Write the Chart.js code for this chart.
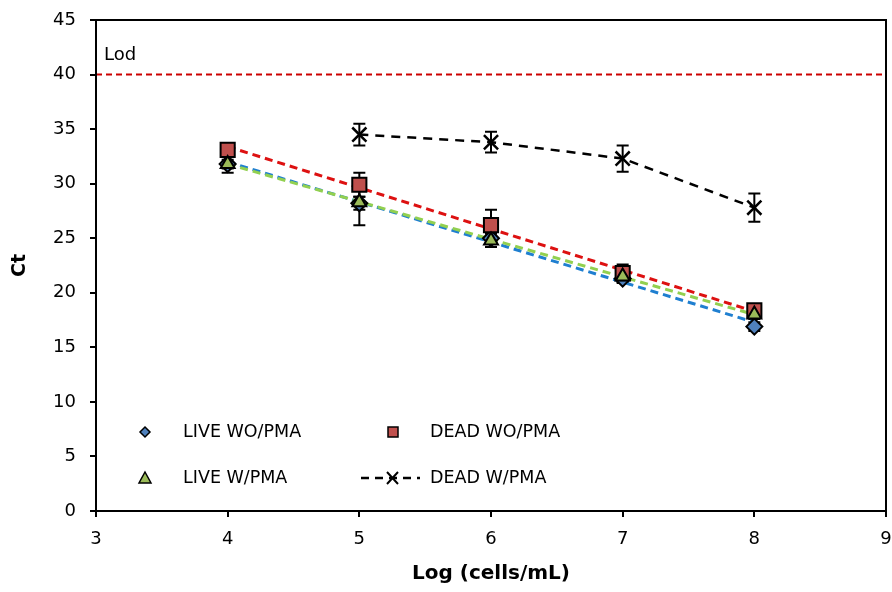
<!DOCTYPE html>
<html>
<head>
<meta charset="utf-8">
<script src="https://cdn.jsdelivr.net/npm/chart.js@4"></script>
<style>
html,body{margin:0;padding:0;background:#fff;}
#wrap{width:892px;height:592px;}
</style>
</head>
<body>
<div id="wrap"><canvas id="c" width="892" height="592"></canvas></div>
<script>
// ---- data ----
const logCells = [4, 5, 6, 7, 8];
const liveWO = [31.8, 28.2, 25.0, 21.3, 16.9];
const deadWO = [33.1, 29.9, 26.2, 21.8, 18.4];
const liveW  = [31.8, 28.3, 24.8, 21.5, 18.0];
const deadWx = [5, 6, 7, 8];
const deadW  = [34.5, 33.8, 32.3, 27.8];
// error bar half-widths
const deadWOErr = [0.5, 1.1, 1.4, 0.8, 0.4];
const liveWErr  = [0.8, 2.1, 0.6, 0.5, 0.4];
const liveWOErr = [0.4, 0.6, 0.5, 0.4, 0.4];
const deadWErr  = [1.0, 0.95, 1.2, 1.3];
// trendline endpoints (x=4, x=8)
const trendX = [4, 8];
const trendLiveWO = [32.0, 17.3];
const trendDeadWO = [33.4, 18.3];
const trendLiveW  = [31.8, 18.0];
// limit of detection
const lodValue = 40;
const lodX = [3, 9];
const xTicks = [3, 4, 5, 6, 7, 8, 9];
const yTicks = [0, 5, 10, 15, 20, 25, 30, 35, 40, 45];

const FONT = "'DejaVu Sans', Verdana, sans-serif";
const pts = (xs, ys) => xs.map((x, i) => ({x: x, y: ys[i]}));

const errorBars = [
  {xs: logCells, ys: liveWO, e: liveWOErr},
  {xs: logCells, ys: deadWO, e: deadWOErr},
  {xs: logCells, ys: liveW, e: liveWErr},
  {xs: deadWx, ys: deadW, e: deadWErr}
];

const errPlugin = {
  id: 'errbars',
  beforeDatasetsDraw(chart) {
    const ctx = chart.ctx, xs = chart.scales.x, ys = chart.scales.y;
    ctx.save();
    ctx.strokeStyle = '#000';
    ctx.lineWidth = 2;
    errorBars.forEach(s => {
      s.xs.forEach((xv, i) => {
        const px = xs.getPixelForValue(xv);
        const top = ys.getPixelForValue(s.ys[i] + s.e[i]);
        const bot = ys.getPixelForValue(s.ys[i] - s.e[i]);
        ctx.beginPath();
        ctx.moveTo(px, top); ctx.lineTo(px, bot);
        ctx.moveTo(px - 6, top); ctx.lineTo(px + 6, top);
        ctx.moveTo(px - 6, bot); ctx.lineTo(px + 6, bot);
        ctx.stroke();
      });
    });
    ctx.restore();
  },
  afterDraw(chart) {
    const ctx = chart.ctx, a = chart.chartArea;
    ctx.save();
    // frame
    ctx.strokeStyle = '#000';
    ctx.lineWidth = 2;
    ctx.strokeRect(a.left, a.top, a.right - a.left, a.bottom - a.top);
    // Lod label
    ctx.fillStyle = '#000';
    ctx.font = "18px " + FONT;
    ctx.textBaseline = 'middle';
    ctx.textAlign = 'left';
    ctx.fillText('Lod', 104, 55);
    // legend
    ctx.font = "17.5px " + FONT;
    const r1 = 432, r2 = 478;
    ctx.lineWidth = 1.5;
    // diamond
    ctx.beginPath();
    ctx.moveTo(145, r1 - 5); ctx.lineTo(150, r1); ctx.lineTo(145, r1 + 5); ctx.lineTo(140, r1); ctx.closePath();
    ctx.fillStyle = '#4f81bd'; ctx.fill(); ctx.strokeStyle = '#000'; ctx.stroke();
    // square
    ctx.beginPath(); ctx.rect(388, r1 - 5, 10, 10);
    ctx.fillStyle = '#c0504d'; ctx.fill(); ctx.stroke();
    // triangle
    ctx.beginPath();
    ctx.moveTo(145, r2 - 6); ctx.lineTo(151, r2 + 5); ctx.lineTo(139, r2 + 5); ctx.closePath();
    ctx.fillStyle = '#9bbb59'; ctx.fill(); ctx.stroke();
    // dashed line with x
    ctx.lineWidth = 2.5;
    ctx.setLineDash([8, 6]);
    ctx.beginPath(); ctx.moveTo(361, r2); ctx.lineTo(420, r2); ctx.stroke();
    ctx.setLineDash([]);
    ctx.lineWidth = 2;
    ctx.beginPath();
    ctx.moveTo(387, r2 - 6); ctx.lineTo(398, r2 + 6);
    ctx.moveTo(398, r2 - 6); ctx.lineTo(387, r2 + 6);
    ctx.stroke();
    ctx.fillStyle = '#000';
    ctx.fillText('LIVE WO/PMA', 183, r1);
    ctx.fillText('DEAD WO/PMA', 430, r1);
    ctx.fillText('LIVE W/PMA', 183, r2);
    ctx.fillText('DEAD W/PMA', 430, r2);
    ctx.restore();
  }
};

const markerBase = {showLine: false, borderColor: '#000', borderWidth: 2};

new Chart(document.getElementById('c'), {
  type: 'scatter',
  data: {
    datasets: [
      {label: 'Lod', data: pts(lodX, [lodValue, lodValue]), showLine: true, borderColor: '#cc0000', borderWidth: 2, borderDash: [6, 4], pointRadius: 0, order: 10},
      {label: 'trend live wo', data: pts(trendX, trendLiveWO), showLine: true, borderColor: '#1f7fd0', borderWidth: 3, borderDash: [8, 5], pointRadius: 0, order: 9},
      {label: 'trend live w', data: pts(trendX, trendLiveW), showLine: true, borderColor: '#92d050', borderWidth: 3, borderDash: [8, 5], pointRadius: 0, order: 8},
      {label: 'trend dead wo', data: pts(trendX, trendDeadWO), showLine: true, borderColor: '#dd1111', borderWidth: 3, borderDash: [8, 5], pointRadius: 0, order: 7},
      Object.assign({label: 'LIVE WO/PMA', data: pts(logCells, liveWO), pointStyle: 'rectRot', pointRadius: 8, backgroundColor: '#4f81bd', order: 4}, markerBase),
      Object.assign({label: 'DEAD WO/PMA', data: pts(logCells, deadWO), pointStyle: 'rect', pointRadius: 10, backgroundColor: '#c0504d', order: 3}, markerBase),
      Object.assign({label: 'LIVE W/PMA', data: pts(logCells, liveW), pointStyle: 'triangle', pointRadius: 8, backgroundColor: '#9bbb59', order: 2}, markerBase),
      {label: 'DEAD W/PMA', data: pts(deadWx, deadW), showLine: true, borderColor: '#000', borderWidth: 2.5, borderDash: [9, 7], pointStyle: 'crossRot', pointRadius: 10, pointBorderWidth: 2.5, pointBorderColor: '#000', order: 1}
    ]
  },
  options: {
    responsive: false,
    animation: false,
    layout: {autoPadding: false, padding: {top: 20, right: 6, left: 0, bottom: 0}},
    plugins: {legend: {display: false}, tooltip: {enabled: false}},
    scales: {
      x: {
        type: 'linear', min: 3, max: 9,
        afterFit(s) { s.height = 81; s.paddingRight = 0; s.paddingLeft = 0; },
        afterBuildTicks(s) { s.ticks = xTicks.map(v => ({value: v})); },
        grid: {drawOnChartArea: false, drawTicks: true, tickLength: 6, color: '#000', lineWidth: 2},
        border: {display: true, color: '#000', width: 2},
        ticks: {color: '#000', font: {family: FONT, size: 18}, padding: 12},
        title: {display: true, text: 'Log (cells/mL)', color: '#000', font: {family: FONT, size: 20, weight: 'bold'}, padding: {top: 0, bottom: 6}}
      },
      y: {
        type: 'linear', min: 0, max: 45,
        afterFit(s) { s.width = 96; s.paddingTop = 0; s.paddingBottom = 0; },
        afterBuildTicks(s) { s.ticks = yTicks.map(v => ({value: v})); },
        grid: {drawOnChartArea: false, drawTicks: true, tickLength: 6, color: '#000', lineWidth: 2},
        border: {display: true, color: '#000', width: 2},
        ticks: {color: '#000', font: {family: FONT, size: 18}, padding: 14},
        title: {display: true, text: 'Ct', color: '#000', font: {family: FONT, size: 19, weight: 'bold'}, padding: {top: 9, bottom: 0}}
      }
    }
  },
  plugins: [errPlugin]
});
</script>
</body>
</html>
